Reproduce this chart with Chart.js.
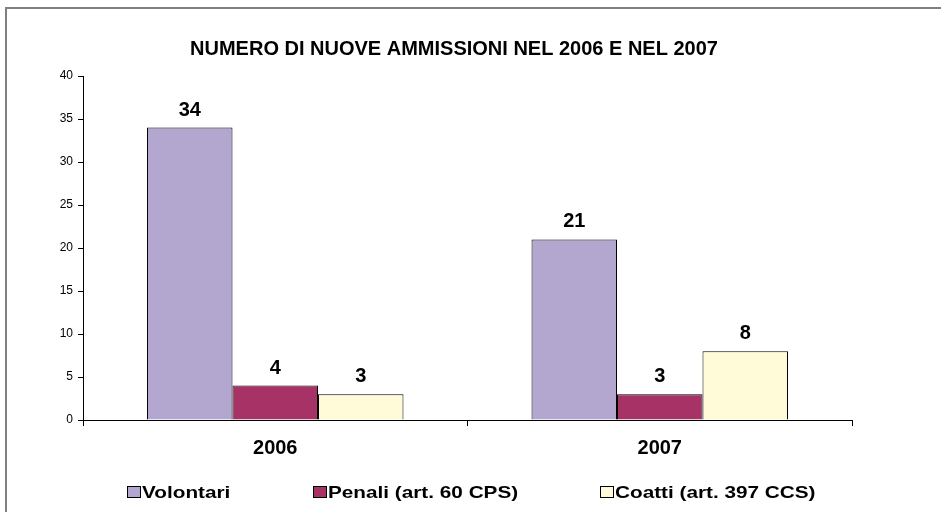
<!DOCTYPE html>
<html>
<head>
<meta charset="utf-8">
<script src="https://cdn.jsdelivr.net/npm/chart.js@4/dist/chart.umd.min.js"></script>
<style>
html,body{margin:0;padding:0;background:#fff;}
#wrap{width:941px;height:512px;position:relative;}
</style>
</head>
<body>
<div id="wrap"><canvas id="c" width="941" height="512"></canvas></div>
<script>
const categories = ["2006", "2007"];
const seriesNames = ["Volontari", "Penali (art. 60 CPS)", "Coatti (art. 397 CCS)"];
const volontari = [34, 21];
const penali = [4, 3];
const coatti = [3, 8];
const yTicks = [0, 5, 10, 15, 20, 25, 30, 35, 40];
const titleText = "NUMERO DI NUOVE AMMISSIONI NEL 2006 E NEL 2007";

const colors = ["#B3A7D0", "#A73366", "#FFFBD8"];
const FONT = "'Liberation Sans', Arial, sans-serif";

const decor = {
  id: 'decor',
  beforeDraw(chart) {
    const ctx = chart.ctx;
    ctx.save();
    ctx.fillStyle = '#fff';
    ctx.fillRect(0, 0, chart.width, chart.height);
    ctx.strokeStyle = '#808080';
    ctx.lineWidth = 2;
    ctx.strokeRect(6, 8, chart.width + 20, chart.height + 20);
    ctx.restore();
  },
  afterDraw(chart) {
    const ctx = chart.ctx;
    ctx.save();
    // title
    ctx.fillStyle = '#000';
    ctx.font = "bold 20px " + FONT;
    ctx.textAlign = 'center';
    ctx.textBaseline = 'alphabetic';
    ctx.fillText(titleText, 454, 55);
    // value labels
    ctx.font = "bold 20px " + FONT;
    chart.data.datasets.forEach((ds, i) => {
      const meta = chart.getDatasetMeta(i);
      meta.data.forEach((bar, j) => {
        ctx.fillText(String(ds.data[j]), bar.x, bar.y - 12);
      });
    });
    // legend (horizontally stretched like the original)
    const legendX = [127, 313, 600];
    const boxTop = 486;
    ctx.textAlign = 'left';
    ctx.font = "bold 17px " + FONT;
    chart.data.datasets.forEach((ds, i) => {
      const x = legendX[i];
      ctx.fillStyle = ds.backgroundColor;
      ctx.fillRect(x, boxTop, 14, 12);
      ctx.strokeStyle = '#000';
      ctx.lineWidth = 1;
      ctx.strokeRect(x + 0.5, boxTop + 0.5, 13, 11);
      ctx.save();
      ctx.translate(x + 15, 498);
      ctx.scale(1.22, 1);
      ctx.fillStyle = '#000';
      ctx.fillText(ds.label, 0, 0);
      ctx.restore();
    });
    ctx.restore();
  }
};

new Chart(document.getElementById('c'), {
  type: 'bar',
  data: {
    labels: categories,
    datasets: [
      { label: seriesNames[0], data: volontari, backgroundColor: colors[0], borderColor: '#000', borderWidth: 1 },
      { label: seriesNames[1], data: penali, backgroundColor: colors[1], borderColor: '#000', borderWidth: 1 },
      { label: seriesNames[2], data: coatti, backgroundColor: colors[2], borderColor: '#000', borderWidth: 1 }
    ]
  },
  options: {
    responsive: false,
    animation: false,
    devicePixelRatio: 1,
    layout: { padding: { left: 0, top: 76, right: 89, bottom: 0 } },
    plugins: { legend: { display: false }, title: { display: false }, tooltip: { enabled: false } },
    datasets: { bar: { barPercentage: 1.0, categoryPercentage: 0.667 } },
    scales: {
      x: {
        afterFit(s) { s.height = 92; },
        grid: { display: true, drawOnChartArea: false, offset: true, tickLength: 6, color: '#000' },
        border: { display: true, color: '#000', width: 1 },
        ticks: { color: '#000', font: { family: FONT, size: 20, weight: 'bold' }, padding: 10 }
      },
      y: {
        min: 0, max: 40,
        afterFit(s) { s.width = 83; },
        afterBuildTicks(s) { s.ticks = yTicks.map(v => ({ value: v })); },
        grid: { display: true, drawOnChartArea: false, tickLength: 5, color: '#000' },
        border: { display: true, color: '#000', width: 1 },
        ticks: { color: '#000', font: { family: FONT, size: 12 }, padding: 5 }
      }
    }
  },
  plugins: [decor]
});
</script>
</body>
</html>
